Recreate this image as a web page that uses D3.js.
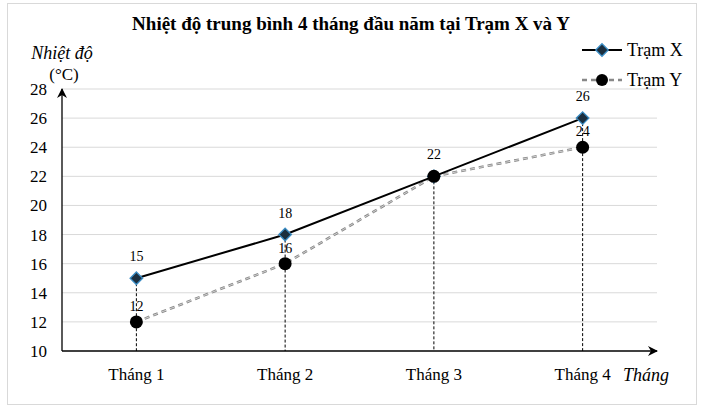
<!DOCTYPE html>
<html>
<head>
<meta charset="utf-8">
<script src="https://cdn.jsdelivr.net/npm/d3@7"></script>
<style>
  body { margin: 0; background: #fff; }
  text { font-family: "Liberation Serif", "Times New Roman", serif; fill: #000; }
</style>
</head>
<body>
<svg id="chart" width="701" height="410"></svg>
<script>
// data
const months = ["Tháng 1", "Tháng 2", "Tháng 3", "Tháng 4"];
const tramX = [15, 18, 22, 26];
const tramY = [12, 16, 22, 24];
const yTicks = [10, 12, 14, 16, 18, 20, 22, 24, 26, 28];

const svg = d3.select("#chart");
const plotL = 62, plotR = 657, plotT = 89, plotB = 351;

// outer frame
svg.append("rect").attr("x", 7.5).attr("y", 3.5).attr("width", 689).attr("height", 401)
  .attr("fill", "none").attr("stroke", "#d9d9d9");

const x = d3.scaleBand().domain(months).range([plotL, plotR]);
const y = d3.scaleLinear().domain([10, 28]).range([plotB, plotT]);
const cx = d => x(d) + x.bandwidth() / 2;

// gridlines
svg.selectAll(".grid").data(yTicks.slice(1)).enter().append("line")
  .attr("x1", plotL).attr("x2", plotR)
  .attr("y1", d => y(d)).attr("y2", d => y(d))
  .attr("stroke", "#d9d9d9").attr("stroke-width", 1);

// y tick labels
svg.selectAll(".ytl").data(yTicks).enter().append("text")
  .attr("x", 47).attr("y", d => y(d) + 6)
  .attr("text-anchor", "end").attr("font-size", 17).text(d => d);

// x labels
svg.selectAll(".xtl").data(months).enter().append("text")
  .attr("x", d => cx(d)).attr("y", 380)
  .attr("text-anchor", "middle").attr("font-size", 17).text(d => d);

// arrow marker
svg.append("defs").append("marker").attr("id", "arr")
  .attr("viewBox", "0 0 10 10").attr("refX", 9).attr("refY", 5)
  .attr("markerWidth", 10).attr("markerHeight", 10).attr("markerUnits", "userSpaceOnUse")
  .attr("orient", "auto")
  .append("path").attr("d", "M0,0 L10,5 L0,10 L3,5 Z").attr("fill", "#000");

// axes
svg.append("line").attr("x1", plotL).attr("x2", plotL).attr("y1", plotB).attr("y2", plotT)
  .attr("stroke", "#000").attr("stroke-width", 1.3).attr("marker-end", "url(#arr)");
svg.append("line").attr("x1", plotL).attr("x2", plotR).attr("y1", plotB).attr("y2", plotB)
  .attr("stroke", "#000").attr("stroke-width", 1.3).attr("marker-end", "url(#arr)");

// drop lines
svg.selectAll(".drop").data(months).enter().append("line")
  .attr("x1", d => cx(d)).attr("x2", d => cx(d))
  .attr("y1", (d, i) => y(Math.max(tramX[i], tramY[i]))).attr("y2", plotB)
  .attr("stroke", "#000").attr("stroke-width", 1).attr("stroke-dasharray", "3,2");

const line = d3.line().x((d, i) => cx(months[i])).y(d => y(d));

// Tram Y line (short dashes, gray with dark edge)
svg.append("path").datum(tramY).attr("d", line).attr("fill", "none")
  .attr("stroke", "#888").attr("stroke-width", 2.6).attr("stroke-dasharray", "5,4");
svg.append("path").datum(tramY).attr("d", line).attr("fill", "none")
  .attr("stroke", "#d8d8d8").attr("stroke-width", 0.9).attr("stroke-dasharray", "5,4");

// Tram X line
svg.append("path").datum(tramX).attr("d", line).attr("fill", "none")
  .attr("stroke", "#000").attr("stroke-width", 2);

// markers
const diamond = d3.symbol().type(d3.symbolDiamond2).size(100);
svg.selectAll(".mx").data(tramX).enter().append("path")
  .attr("d", diamond)
  .attr("transform", (d, i) => "translate(" + cx(months[i]) + "," + y(d) + ")")
  .attr("fill", "#1b2f3f").attr("stroke", "#3a8cc4").attr("stroke-width", 1.3);
svg.selectAll(".my").data(tramY).enter().append("circle")
  .attr("cx", (d, i) => cx(months[i])).attr("cy", d => y(d)).attr("r", 6.5)
  .attr("fill", "#000");

// value labels (a shared value is written once)
svg.selectAll(".lx").data(tramX).enter().append("text")
  .attr("x", (d, i) => cx(months[i])).attr("y", d => y(d) - 17)
  .attr("text-anchor", "middle").attr("font-size", 14).text(d => d);
svg.selectAll(".ly").data(tramY.filter((d, i) => d !== tramX[i])).enter().append("text")
  .attr("x", d => cx(months[tramY.indexOf(d)])).attr("y", d => y(d) - 11)
  .attr("text-anchor", "middle").attr("font-size", 14).text(d => d);

// title
svg.append("text").attr("x", 351).attr("y", 30).attr("text-anchor", "middle")
  .attr("font-size", 19).attr("font-weight", "bold")
  .text("Nhiệt độ trung bình 4 tháng đầu năm tại Trạm X và Y");

// axis titles
svg.append("text").attr("x", 62).attr("y", 59).attr("text-anchor", "middle")
  .attr("font-size", 18).attr("font-style", "italic").text("Nhiệt độ");
svg.append("text").attr("x", 64).attr("y", 80).attr("text-anchor", "middle")
  .attr("font-size", 17).text("(°C)");
svg.append("text").attr("x", 646).attr("y", 381).attr("text-anchor", "middle")
  .attr("font-size", 18).attr("font-style", "italic").text("Tháng");

// legend
const lg = svg.append("g");
lg.append("line").attr("x1", 582).attr("x2", 622).attr("y1", 50).attr("y2", 50)
  .attr("stroke", "#000").attr("stroke-width", 2);
lg.append("path").attr("d", diamond).attr("transform", "translate(602,50)")
  .attr("fill", "#1b2f3f").attr("stroke", "#3a8cc4").attr("stroke-width", 1.3);
lg.append("text").attr("x", 627).attr("y", 56).attr("font-size", 18).text("Trạm X");
lg.append("line").attr("x1", 582).attr("x2", 622).attr("y1", 80).attr("y2", 80)
  .attr("stroke", "#888").attr("stroke-width", 2.4).attr("stroke-dasharray", "5,4");
lg.append("circle").attr("cx", 602).attr("cy", 80).attr("r", 6).attr("fill", "#000");
lg.append("text").attr("x", 627).attr("y", 86).attr("font-size", 18).text("Trạm Y");
</script>
</body>
</html>
